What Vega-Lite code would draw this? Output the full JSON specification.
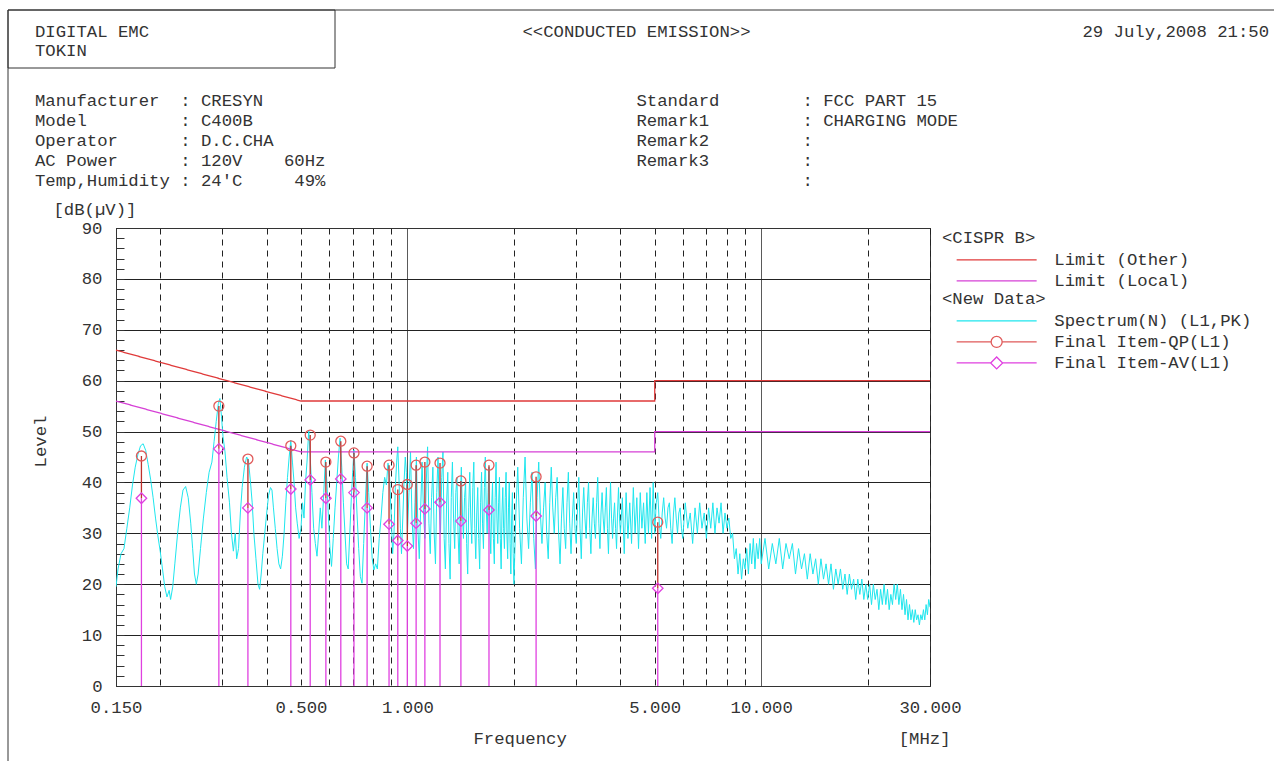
{
  "$schema": "https://vega.github.io/schema/vega-lite/v6.json",
  "width": 814,
  "height": 458,
  "autosize": {"type": "none"},
  "padding": {"left": 116, "top": 228, "right": 344, "bottom": 75},
  "background": "white",
  "config": {
    "font": "Liberation Mono",
    "view": {"stroke": "#333", "strokeWidth": 1},
    "axis": {"labelFontSize": 17.3, "titleFontSize": 17.3, "titleFontWeight": "normal", "labelColor": "#333", "titleColor": "#333", "domainColor": "#333", "tickColor": "#333"},
    "legend": {"titleFontSize": 17.3, "labelFontSize": 17.3, "titleFontWeight": "normal", "titleColor": "#333", "labelColor": "#333", "labelLimit": 3000, "titleLimit": 3000, "padding": 0}
  },
  "title": {
    "text": ["DIGITAL EMC\u00a0\u00a0\u00a0\u00a0\u00a0\u00a0\u00a0\u00a0\u00a0\u00a0\u00a0\u00a0\u00a0\u00a0\u00a0\u00a0\u00a0\u00a0\u00a0\u00a0\u00a0\u00a0\u00a0\u00a0\u00a0\u00a0\u00a0\u00a0\u00a0\u00a0\u00a0\u00a0\u00a0\u00a0\u00a0\u00a0<<CONDUCTED EMISSION>>\u00a0\u00a0\u00a0\u00a0\u00a0\u00a0\u00a0\u00a0\u00a0\u00a0\u00a0\u00a0\u00a0\u00a0\u00a0\u00a0\u00a0\u00a0\u00a0\u00a0\u00a0\u00a0\u00a0\u00a0\u00a0\u00a0\u00a0\u00a0\u00a0\u00a0\u00a0\u00a029 July,2008 21:50", "TOKIN"],
    "subtitle": [
      "Manufacturer\u00a0\u00a0: CRESYN\u00a0\u00a0\u00a0\u00a0\u00a0\u00a0\u00a0\u00a0\u00a0\u00a0\u00a0\u00a0\u00a0\u00a0\u00a0\u00a0\u00a0\u00a0\u00a0\u00a0\u00a0\u00a0\u00a0\u00a0\u00a0\u00a0\u00a0\u00a0\u00a0\u00a0\u00a0\u00a0\u00a0\u00a0\u00a0\u00a0Standard\u00a0\u00a0\u00a0\u00a0\u00a0\u00a0\u00a0\u00a0: FCC PART 15",
      "Model\u00a0\u00a0\u00a0\u00a0\u00a0\u00a0\u00a0\u00a0\u00a0: C400B\u00a0\u00a0\u00a0\u00a0\u00a0\u00a0\u00a0\u00a0\u00a0\u00a0\u00a0\u00a0\u00a0\u00a0\u00a0\u00a0\u00a0\u00a0\u00a0\u00a0\u00a0\u00a0\u00a0\u00a0\u00a0\u00a0\u00a0\u00a0\u00a0\u00a0\u00a0\u00a0\u00a0\u00a0\u00a0\u00a0\u00a0Remark1\u00a0\u00a0\u00a0\u00a0\u00a0\u00a0\u00a0\u00a0\u00a0: CHARGING MODE",
      "Operator\u00a0\u00a0\u00a0\u00a0\u00a0\u00a0: D.C.CHA\u00a0\u00a0\u00a0\u00a0\u00a0\u00a0\u00a0\u00a0\u00a0\u00a0\u00a0\u00a0\u00a0\u00a0\u00a0\u00a0\u00a0\u00a0\u00a0\u00a0\u00a0\u00a0\u00a0\u00a0\u00a0\u00a0\u00a0\u00a0\u00a0\u00a0\u00a0\u00a0\u00a0\u00a0\u00a0Remark2\u00a0\u00a0\u00a0\u00a0\u00a0\u00a0\u00a0\u00a0\u00a0:",
      "AC Power\u00a0\u00a0\u00a0\u00a0\u00a0\u00a0: 120V\u00a0\u00a0\u00a0\u00a060Hz\u00a0\u00a0\u00a0\u00a0\u00a0\u00a0\u00a0\u00a0\u00a0\u00a0\u00a0\u00a0\u00a0\u00a0\u00a0\u00a0\u00a0\u00a0\u00a0\u00a0\u00a0\u00a0\u00a0\u00a0\u00a0\u00a0\u00a0\u00a0\u00a0\u00a0Remark3\u00a0\u00a0\u00a0\u00a0\u00a0\u00a0\u00a0\u00a0\u00a0:",
      "Temp,Humidity : 24'C\u00a0\u00a0\u00a0\u00a0\u00a049%\u00a0\u00a0\u00a0\u00a0\u00a0\u00a0\u00a0\u00a0\u00a0\u00a0\u00a0\u00a0\u00a0\u00a0\u00a0\u00a0\u00a0\u00a0\u00a0\u00a0\u00a0\u00a0\u00a0\u00a0\u00a0\u00a0\u00a0\u00a0\u00a0\u00a0\u00a0\u00a0\u00a0\u00a0\u00a0\u00a0\u00a0\u00a0\u00a0\u00a0\u00a0\u00a0\u00a0\u00a0\u00a0\u00a0:"
    ],
    "anchor": "start",
    "frame": "group",
    "orient": "top",
    "dx": -81,
    "offset": -181,
    "font": "Liberation Mono",
    "fontSize": 17.3,
    "fontWeight": "normal",
    "color": "#333",
    "lineHeight": 19,
    "subtitleFont": "Liberation Mono",
    "subtitleFontSize": 17.3,
    "subtitleColor": "#333",
    "subtitleLineHeight": 20,
    "subtitlePadding": 33
  },
  "datasets": {
    "spec": [
      {"f":0.15,"v":19.5},{"f":0.152,"v":23},{"f":0.155,"v":26},{"f":0.158,"v":27},{"f":0.161,"v":31},{"f":0.164,"v":35},{"f":0.167,"v":39.5},{"f":0.17,"v":43},{"f":0.173,"v":45.5},{"f":0.176,"v":47.2},{"f":0.179,"v":47.6},{"f":0.182,"v":46.3},{"f":0.185,"v":43.5},{"f":0.188,"v":40.5},{"f":0.191,"v":37},{"f":0.194,"v":33},{"f":0.197,"v":29.5},{"f":0.2,"v":26.5},{"f":0.203,"v":23},{"f":0.206,"v":19.5},{"f":0.209,"v":17.5},{"f":0.212,"v":18.8},{"f":0.214,"v":17},{"f":0.217,"v":19.5},{"f":0.22,"v":24},{"f":0.224,"v":30},{"f":0.228,"v":35},{"f":0.232,"v":38.5},{"f":0.236,"v":39.2},{"f":0.24,"v":37},{"f":0.244,"v":32},{"f":0.247,"v":27},{"f":0.25,"v":22},{"f":0.253,"v":20},{"f":0.256,"v":22},{"f":0.26,"v":27},{"f":0.265,"v":33},{"f":0.27,"v":38},{"f":0.275,"v":42},{"f":0.28,"v":44},{"f":0.284,"v":48},{"f":0.288,"v":52},{"f":0.292,"v":55.5},{"f":0.295,"v":56.5},{"f":0.298,"v":53},{"f":0.301,"v":49},{"f":0.305,"v":46},{"f":0.309,"v":41},{"f":0.314,"v":36},{"f":0.318,"v":30},{"f":0.322,"v":26.5},{"f":0.326,"v":30},{"f":0.329,"v":25},{"f":0.333,"v":27},{"f":0.337,"v":34},{"f":0.341,"v":39},{"f":0.346,"v":43},{"f":0.351,"v":45},{"f":0.355,"v":44.5},{"f":0.36,"v":40},{"f":0.364,"v":36},{"f":0.368,"v":30},{"f":0.373,"v":25},{"f":0.378,"v":20},{"f":0.382,"v":19},{"f":0.386,"v":22},{"f":0.39,"v":26},{"f":0.395,"v":30},{"f":0.4,"v":34},{"f":0.405,"v":37.5},{"f":0.41,"v":39},{"f":0.414,"v":38.5},{"f":0.418,"v":35},{"f":0.423,"v":31},{"f":0.428,"v":27},{"f":0.433,"v":24},{"f":0.438,"v":23},{"f":0.443,"v":25.5},{"f":0.448,"v":30},{"f":0.453,"v":36},{"f":0.458,"v":41},{"f":0.463,"v":45},{"f":0.468,"v":48.3},{"f":0.473,"v":44},{"f":0.478,"v":40},{"f":0.483,"v":35},{"f":0.488,"v":32},{"f":0.494,"v":29},{"f":0.5,"v":31},{"f":0.505,"v":36},{"f":0.51,"v":33},{"f":0.515,"v":40},{"f":0.52,"v":44},{"f":0.526,"v":50.3},{"f":0.531,"v":45},{"f":0.537,"v":38},{"f":0.543,"v":31},{"f":0.549,"v":28},{"f":0.555,"v":25.5},{"f":0.561,"v":30},{"f":0.567,"v":35},{"f":0.573,"v":31},{"f":0.58,"v":38},{"f":0.586,"v":44.4},{"f":0.592,"v":40},{"f":0.598,"v":33},{"f":0.604,"v":27},{"f":0.61,"v":23.5},{"f":0.617,"v":29},{"f":0.624,"v":35},{"f":0.631,"v":40},{"f":0.638,"v":45},{"f":0.645,"v":48.7},{"f":0.652,"v":43},{"f":0.659,"v":36},{"f":0.666,"v":30},{"f":0.673,"v":24},{"f":0.68,"v":23},{"f":0.687,"v":30},{"f":0.694,"v":37},{"f":0.7,"v":42},{"f":0.706,"v":46.4},{"f":0.713,"v":41},{"f":0.72,"v":34},{"f":0.728,"v":27},{"f":0.736,"v":21.5},{"f":0.744,"v":20.2},{"f":0.752,"v":28},{"f":0.76,"v":36},{"f":0.769,"v":43.8},{"f":0.777,"v":38},{"f":0.786,"v":31},{"f":0.795,"v":25},{"f":0.804,"v":22.8},{"f":0.813,"v":24},{"f":0.822,"v":23},{"f":0.832,"v":29},{"f":0.842,"v":33},{"f":0.852,"v":38},{"f":0.862,"v":41},{"f":0.872,"v":39.5},{"f":0.881,"v":43.8},{"f":0.89,"v":41},{"f":0.899,"v":34},{"f":0.908,"v":26},{"f":0.916,"v":30},{"f":0.924,"v":39},{"f":0.932,"v":44},{"f":0.939,"v":47},{"f":0.947,"v":40},{"f":0.955,"v":31},{"f":0.962,"v":26},{"f":0.97,"v":33},{"f":0.978,"v":40},{"f":0.986,"v":45},{"f":0.993,"v":42},{"f":1.0,"v":30},
      {"f":1.01,"v":38},{"f":1.02,"v":46},{"f":1.03,"v":33},{"f":1.04,"v":27},{"f":1.05,"v":36},{"f":1.06,"v":45},{"f":1.07,"v":31},{"f":1.08,"v":25},{"f":1.09,"v":35},{"f":1.1,"v":44},{"f":1.11,"v":34},{"f":1.12,"v":29},{"f":1.13,"v":40},{"f":1.14,"v":47},{"f":1.15,"v":32},{"f":1.16,"v":26},{"f":1.17,"v":37},{"f":1.18,"v":43},{"f":1.19,"v":30},{"f":1.2,"v":24},{"f":1.21,"v":38},{"f":1.22,"v":45},{"f":1.23,"v":35},{"f":1.24,"v":30},{"f":1.25,"v":41},{"f":1.26,"v":46},{"f":1.27,"v":29},{"f":1.28,"v":23},{"f":1.29,"v":36},{"f":1.3,"v":42},{"f":1.31,"v":28},{"f":1.32,"v":21},{"f":1.33,"v":37},{"f":1.34,"v":44},{"f":1.35,"v":33},{"f":1.36,"v":27},{"f":1.37,"v":38},{"f":1.38,"v":41},{"f":1.39,"v":30},{"f":1.4,"v":24},{"f":1.41,"v":36},{"f":1.42,"v":43},{"f":1.43,"v":34},{"f":1.44,"v":29},{"f":1.45,"v":37},{"f":1.46,"v":40},{"f":1.47,"v":28},{"f":1.48,"v":22},{"f":1.49,"v":35},{"f":1.5,"v":42},{"f":1.51,"v":33},{"f":1.52,"v":28},{"f":1.53,"v":39},{"f":1.54,"v":44},{"f":1.55,"v":31},{"f":1.56,"v":25},{"f":1.57,"v":34},{"f":1.58,"v":39},{"f":1.59,"v":29},{"f":1.6,"v":23},{"f":1.61,"v":36},{"f":1.62,"v":42},{"f":1.63,"v":32},{"f":1.64,"v":27},{"f":1.65,"v":39},{"f":1.66,"v":45},{"f":1.67,"v":35},{"f":1.68,"v":30},{"f":1.69,"v":38},{"f":1.7,"v":43},{"f":1.71,"v":31},{"f":1.72,"v":26},{"f":1.73,"v":35},{"f":1.74,"v":40},{"f":1.75,"v":29},{"f":1.76,"v":24},{"f":1.77,"v":37},{"f":1.78,"v":44},{"f":1.79,"v":33},{"f":1.8,"v":28},{"f":1.81,"v":36},{"f":1.82,"v":41},{"f":1.83,"v":29},{"f":1.84,"v":23},{"f":1.85,"v":34},{"f":1.86,"v":39},{"f":1.87,"v":31},{"f":1.88,"v":27},{"f":1.89,"v":37},{"f":1.9,"v":42},{"f":1.91,"v":30},{"f":1.92,"v":25},{"f":1.93,"v":35},{"f":1.94,"v":40},{"f":1.95,"v":28},{"f":1.96,"v":22},{"f":1.97,"v":33},{"f":1.98,"v":38},{"f":1.99,"v":26},{"f":2.0,"v":20},
      {"f":2.025,"v":34},{"f":2.05,"v":43},{"f":2.075,"v":31},{"f":2.1,"v":24},{"f":2.125,"v":37},{"f":2.15,"v":45},{"f":2.175,"v":33},{"f":2.2,"v":27},{"f":2.225,"v":36},{"f":2.25,"v":42},{"f":2.275,"v":29},{"f":2.3,"v":23},{"f":2.325,"v":37},{"f":2.35,"v":44},{"f":2.375,"v":34},{"f":2.4,"v":28},{"f":2.425,"v":35},{"f":2.45,"v":40},{"f":2.475,"v":30},{"f":2.5,"v":25},{"f":2.525,"v":36},{"f":2.55,"v":43},{"f":2.575,"v":35},{"f":2.6,"v":30},{"f":2.625,"v":37},{"f":2.65,"v":41},{"f":2.675,"v":30},{"f":2.7,"v":24},{"f":2.725,"v":33},{"f":2.75,"v":39},{"f":2.775,"v":31},{"f":2.8,"v":27},{"f":2.825,"v":36},{"f":2.85,"v":42},{"f":2.875,"v":32},{"f":2.9,"v":26},{"f":2.925,"v":33},{"f":2.95,"v":38},{"f":2.975,"v":31},{"f":3.0,"v":28},{"f":3.025,"v":35},{"f":3.05,"v":41},{"f":3.075,"v":31},{"f":3.1,"v":25},{"f":3.125,"v":34},{"f":3.15,"v":39},{"f":3.175,"v":33},{"f":3.2,"v":29},{"f":3.225,"v":36},{"f":3.25,"v":40},{"f":3.275,"v":31},{"f":3.3,"v":26},{"f":3.325,"v":33},{"f":3.35,"v":37},{"f":3.375,"v":32},{"f":3.4,"v":29},{"f":3.425,"v":36},{"f":3.45,"v":41},{"f":3.475,"v":32},{"f":3.5,"v":27},{"f":3.525,"v":34},{"f":3.55,"v":38},{"f":3.575,"v":33},{"f":3.6,"v":30},{"f":3.625,"v":35},{"f":3.65,"v":39},{"f":3.675,"v":31},{"f":3.7,"v":26},{"f":3.725,"v":34},{"f":3.75,"v":40},{"f":3.775,"v":33},{"f":3.8,"v":29},{"f":3.825,"v":33},{"f":3.85,"v":36},{"f":3.875,"v":31},{"f":3.9,"v":27},{"f":3.925,"v":34},{"f":3.95,"v":39},{"f":3.975,"v":33},{"f":4.0,"v":30},
      {"f":4.05,"v":37},{"f":4.1,"v":26},{"f":4.15,"v":38},{"f":4.2,"v":29},{"f":4.25,"v":36},{"f":4.3,"v":28},{"f":4.35,"v":39},{"f":4.4,"v":30},{"f":4.45,"v":37},{"f":4.5,"v":27},{"f":4.55,"v":38},{"f":4.6,"v":31},{"f":4.65,"v":36},{"f":4.7,"v":28},{"f":4.75,"v":38},{"f":4.8,"v":30},{"f":4.85,"v":39},{"f":4.9,"v":29},{"f":4.95,"v":40},{"f":5.0,"v":30},
      {"f":5.05,"v":36},{"f":5.1,"v":38},{"f":5.15,"v":32},{"f":5.2,"v":29},{"f":5.25,"v":34},{"f":5.3,"v":37},{"f":5.35,"v":33},{"f":5.4,"v":31},{"f":5.45,"v":35},{"f":5.5,"v":36},{"f":5.55,"v":31},{"f":5.6,"v":28},{"f":5.65,"v":34},{"f":5.7,"v":37},{"f":5.75,"v":33},{"f":5.8,"v":30},{"f":5.85,"v":34},{"f":5.9,"v":35},{"f":5.95,"v":31},{"f":6.0,"v":29},{"f":6.1,"v":36},{"f":6.2,"v":31},{"f":6.3,"v":34},{"f":6.4,"v":28},{"f":6.5,"v":35},{"f":6.6,"v":30},{"f":6.7,"v":36},{"f":6.8,"v":31},{"f":6.9,"v":34},{"f":7.0,"v":29},{"f":7.1,"v":35},{"f":7.2,"v":31},{"f":7.3,"v":36},{"f":7.4,"v":30},{"f":7.5,"v":35},{"f":7.6,"v":32},{"f":7.7,"v":36},{"f":7.8,"v":30},{"f":7.9,"v":34},{"f":8.0,"v":31},{"f":8.1,"v":33},{"f":8.2,"v":29},{"f":8.3,"v":30},{"f":8.4,"v":25},{"f":8.5,"v":27},{"f":8.6,"v":22},{"f":8.7,"v":26},{"f":8.8,"v":21},{"f":8.9,"v":25},{"f":9.0,"v":23},{"f":9.1,"v":27},{"f":9.2,"v":22},{"f":9.3,"v":28},{"f":9.4,"v":24},{"f":9.5,"v":29},{"f":9.6,"v":23},{"f":9.7,"v":28},{"f":9.8,"v":25},{"f":9.9,"v":29},{"f":10.0,"v":24},
      {"f":10.25,"v":29},{"f":10.5,"v":23},{"f":10.75,"v":28},{"f":11.0,"v":24},{"f":11.25,"v":29},{"f":11.5,"v":23},{"f":11.75,"v":28},{"f":12.0,"v":25},{"f":12.25,"v":28},{"f":12.5,"v":22},{"f":12.75,"v":27},{"f":13.0,"v":23},{"f":13.25,"v":26},{"f":13.5,"v":21},{"f":13.75,"v":26},{"f":14.0,"v":22},{"f":14.25,"v":25},{"f":14.5,"v":20},{"f":14.75,"v":25},{"f":15.0,"v":21},{"f":15.25,"v":24},{"f":15.5,"v":20},{"f":15.75,"v":24},{"f":16.0,"v":19},{"f":16.25,"v":23},{"f":16.5,"v":20},{"f":16.75,"v":23},{"f":17.0,"v":19},{"f":17.25,"v":22},{"f":17.5,"v":18},{"f":17.75,"v":22},{"f":18.0,"v":19},{"f":18.25,"v":21},{"f":18.5,"v":17},{"f":18.75,"v":21},{"f":19.0,"v":18},{"f":19.25,"v":21},{"f":19.5,"v":17},{"f":19.75,"v":20},{"f":20.0,"v":17},{"f":20.25,"v":20},{"f":20.5,"v":16},{"f":20.75,"v":20},{"f":21.0,"v":17},{"f":21.25,"v":19},{"f":21.5,"v":15},{"f":21.75,"v":19},{"f":22.0,"v":16},{"f":22.25,"v":20},{"f":22.5,"v":16},{"f":22.75,"v":19},{"f":23.0,"v":15},{"f":23.25,"v":18},{"f":23.5,"v":16},{"f":23.75,"v":20},{"f":24.0,"v":17},{"f":24.25,"v":20},{"f":24.5,"v":16},{"f":24.75,"v":19},{"f":25.0,"v":15},{"f":25.25,"v":18},{"f":25.5,"v":14},{"f":25.75,"v":17},{"f":26.0,"v":13},{"f":26.25,"v":16},{"f":26.5,"v":13},{"f":26.75,"v":15},{"f":27.0,"v":12.5},{"f":27.25,"v":15},{"f":27.5,"v":13},{"f":27.75,"v":14},{"f":28.0,"v":12},{"f":28.25,"v":14},{"f":28.5,"v":13},{"f":28.75,"v":15},{"f":29.0,"v":13},{"f":29.25,"v":16},{"f":29.5,"v":14},{"f":29.75,"v":17},{"f":30.0,"v":15.5}
    ],
    "lim": [
      {"s":"Limit (Other)","f":0.15,"v":66,"i":0},{"s":"Limit (Other)","f":0.5,"v":56,"i":1},{"s":"Limit (Other)","f":5,"v":56,"i":2},{"s":"Limit (Other)","f":5,"v":60,"i":3},{"s":"Limit (Other)","f":30,"v":60,"i":4},
      {"s":"Limit (Local)","f":0.15,"v":56,"i":0},{"s":"Limit (Local)","f":0.5,"v":46,"i":1},{"s":"Limit (Local)","f":5,"v":46,"i":2},{"s":"Limit (Local)","f":5,"v":50,"i":3},{"s":"Limit (Local)","f":30,"v":50,"i":4}
    ],
    "mk": [
      {"f":0.177,"qp":45.2,"av":36.9},{"f":0.293,"qp":55.0,"av":46.6},{"f":0.354,"qp":44.6,"av":35.0},{"f":0.468,"qp":47.2,"av":38.7},{"f":0.531,"qp":49.3,"av":40.5},{"f":0.588,"qp":44.0,"av":36.9},{"f":0.648,"qp":48.1,"av":40.7},{"f":0.706,"qp":45.8,"av":38.0},{"f":0.769,"qp":43.2,"av":35.0},{"f":0.887,"qp":43.4,"av":31.8},{"f":0.939,"qp":38.6,"av":28.6},{"f":0.999,"qp":39.6,"av":27.5},{"f":1.058,"qp":43.4,"av":32.0},{"f":1.12,"qp":44.0,"av":34.8},{"f":1.236,"qp":43.8,"av":36.1},{"f":1.416,"qp":40.3,"av":32.4},{"f":1.7,"qp":43.4,"av":34.6},{"f":2.31,"qp":41.1,"av":33.4},{"f":5.1,"qp":32.2,"av":19.2}
    ]
  },
  "layer": [
    {
      "data": {"name": "spec"},
      "mark": {"type": "line", "strokeWidth": 1, "clip": true},
      "encoding": {
        "x": {"field": "f", "type": "quantitative", "scale": {"type": "log", "domain": [0.15, 30], "nice": false},
          "axis": {"orient": "bottom", "values": [0.15,0.2,0.3,0.4,0.5,0.6,0.7,0.8,0.9,1,2,3,4,5,6,7,8,9,10,20,30],
            "labelExpr": "indexof([0.15,0.5,1,5,10,30], datum.value) >= 0 ? format(datum.value, '.3f') : ''",
            "ticks": false, "labelPadding": 12, "labelFlush": false, "labelOverlap": false, "labelBound": false,
            "grid": true, "gridColor": "#222", "gridWidth": 1,
            "gridDash": {"condition": {"test": "datum.value == 1 || datum.value == 10", "value": [1, 0]}, "value": [6, 5]},
            "title": "Frequency\u00a0\u00a0\u00a0\u00a0\u00a0\u00a0\u00a0\u00a0\u00a0\u00a0\u00a0\u00a0\u00a0\u00a0\u00a0\u00a0\u00a0\u00a0\u00a0\u00a0\u00a0\u00a0\u00a0\u00a0\u00a0\u00a0\u00a0\u00a0\u00a0\u00a0\u00a0\u00a0[MHz]",
            "titleAlign": "left", "titleAnchor": "start", "titleX": 357, "titlePadding": 14}},
        "y": {"field": "v", "type": "quantitative", "scale": {"domain": [0, 90], "nice": false, "zero": false}, "title": "Level",
          "axis": {"orient": "left", "values": [0,2,4,6,8,10,12,14,16,18,20,22,24,26,28,30,32,34,36,38,40,42,44,46,48,50,52,54,56,58,60,62,64,66,68,70,72,74,76,78,80,82,84,86,88,90],
            "labelExpr": "datum.value % 10 == 0 ? datum.label : ''",
            "tickSize": -8, "labelPadding": 22, "labelOverlap": false, "labelFlush": false, "labelBound": false,
            "grid": true, "gridColor": "#222",
            "gridOpacity": {"condition": {"test": "datum.value % 10 == 0", "value": 1}, "value": 0},
            "titleAngle": -90, "titleX": -76, "titleY": 213, "titleAlign": "center", "titleBaseline": "middle"}},
        "stroke": {"datum": "Spectrum(N) (L1,PK)", "type": "nominal",
          "scale": {"domain": ["Spectrum(N) (L1,PK)", "Final Item-QP(L1)", "Final Item-AV(L1)"], "range": ["#1ee6ee", "#e05a5a", "#e040e0"]},
          "legend": {"orient": "none", "legendX": 826, "legendY": 62, "title": "<New Data>",
            "symbolType": "M-8,0H8", "symbolSize": 100, "symbolStrokeWidth": 1.3, "symbolOffset": 46, "labelOffset": 49, "rowPadding": 3, "titlePadding": 5,
            "encode": {"symbols": {"update": {"fill": {"value": "transparent"},
              "shape": {"signal": "datum.value === 'Final Item-QP(L1)' ? 'M-8,0H-1.1M1.1,0H8M-1.1,0A1.1,1.1,0,1,1,1.1,0A1.1,1.1,0,1,1,-1.1,0' : datum.value === 'Final Item-AV(L1)' ? 'M-8,0H-1.2M1.2,0H8M-1.2,0L0,-1.2L1.2,0L0,1.2Z' : 'M-8,0H8'"}}}}}}
      }
    },
    {
      "data": {"name": "lim"},
      "mark": {"type": "line", "strokeWidth": 1.3},
      "encoding": {
        "x": {"field": "f", "type": "quantitative",
          "axis": {"orient": "top", "labels": false, "ticks": false, "grid": false, "domain": true,
            "title": "[dB(µV)]", "titleAlign": "left", "titleAnchor": "start", "titleX": -63, "titleY": -19, "titleBaseline": "middle", "titleAngle": 0}},
        "y": {"field": "v", "type": "quantitative", "axis": null},
        "color": {"field": "s", "type": "nominal",
          "scale": {"domain": ["Limit (Other)", "Limit (Local)"], "range": ["#e03a3a", "#d640d6"]},
          "legend": {"orient": "none", "legendX": 826, "legendY": 1, "title": "<CISPR B>",
            "symbolType": "M-8,0H8", "symbolSize": 100, "symbolStrokeWidth": 1.3, "symbolOffset": 46, "labelOffset": 49, "rowPadding": 3, "titlePadding": 5, "symbolFillColor": "transparent"}},
        "strokeDash": {"datum": "box", "type": "nominal", "scale": {"domain": ["box"], "range": [[1, 0]]},
          "legend": {"orient": "none", "legendX": -109.5, "legendY": -219.5, "title": null, "padding": 0,
            "symbolType": "M0,0H327V58H0Z", "symbolSize": 4, "symbolStrokeWidth": 1, "symbolStrokeColor": "#333", "symbolFillColor": "transparent", "symbolOpacity": 1,
            "labelExpr": "''", "labelFontSize": 1, "labelOffset": 0, "rowPadding": 0}},
        "order": {"field": "i", "type": "quantitative"}
      }
    },
    {
      "data": {"name": "mk"},
      "mark": {"type": "rule", "color": "#e040e0", "strokeWidth": 1.3},
      "encoding": {
        "x": {"field": "f", "type": "quantitative", "axis": null},
        "y": {"field": "av", "type": "quantitative", "axis": null},
        "y2": {"datum": 0}
      }
    },
    {
      "data": {"name": "mk"},
      "mark": {"type": "rule", "color": "#c0302c", "strokeWidth": 1.3},
      "encoding": {
        "x": {"field": "f", "type": "quantitative", "axis": null},
        "y": {"field": "av", "type": "quantitative", "axis": null},
        "y2": {"field": "qp"}
      }
    },
    {
      "data": {"name": "mk"},
      "mark": {"type": "point", "shape": "circle", "filled": false, "size": 100, "strokeWidth": 1.3, "opacity": 1},
      "encoding": {
        "x": {"field": "f", "type": "quantitative", "axis": null},
        "y": {"field": "qp", "type": "quantitative", "axis": null},
        "stroke": {"datum": "Final Item-QP(L1)", "type": "nominal"}
      }
    },
    {
      "data": {"name": "mk"},
      "mark": {"type": "point", "shape": "diamond", "filled": false, "size": 110, "strokeWidth": 1.3},
      "encoding": {
        "x": {"field": "f", "type": "quantitative", "axis": null},
        "y": {"field": "av", "type": "quantitative", "axis": null},
        "stroke": {"datum": "Final Item-AV(L1)", "type": "nominal"},
        "opacity": {"datum": "frame", "type": "ordinal", "scale": {"domain": ["frame"], "range": [1]},
          "legend": {"orient": "none", "legendX": -109.5, "legendY": -219.5, "title": null, "padding": 0,
            "symbolType": "M0,780V0H1300", "symbolSize": 4, "symbolStrokeWidth": 1, "symbolStrokeColor": "#333", "symbolFillColor": "transparent",
            "labelExpr": "''", "labelFontSize": 1, "labelOffset": 0, "rowPadding": 0}}
      }
    }
  ],
  "resolve": {"axis": {"x": "independent", "y": "independent"}}
}
